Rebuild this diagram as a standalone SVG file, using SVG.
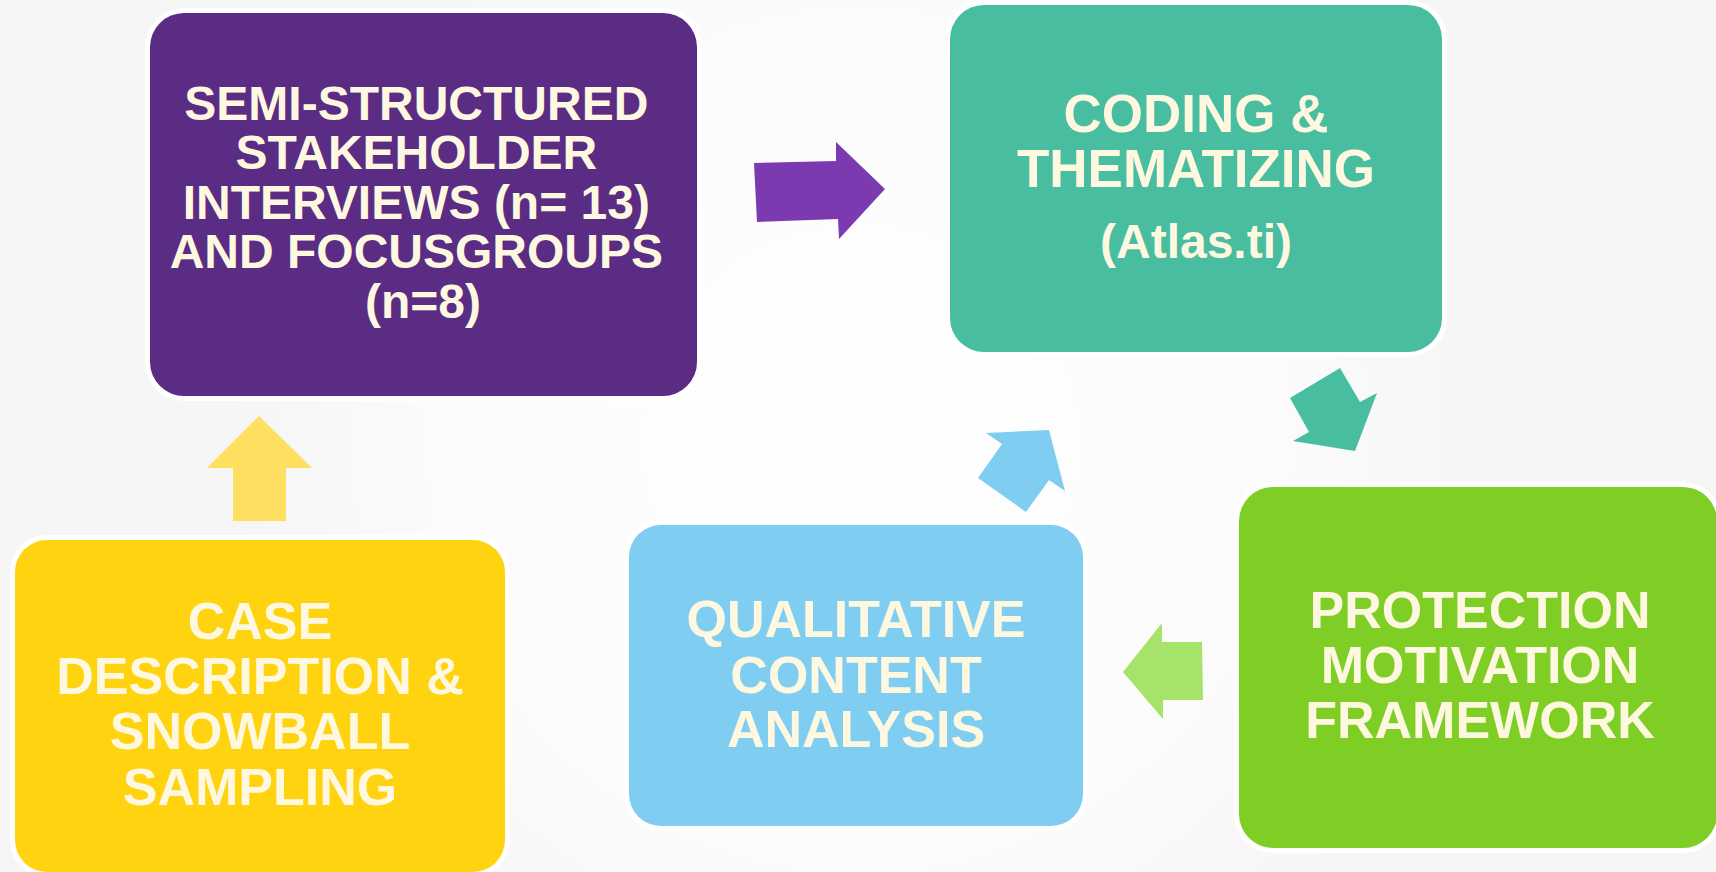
<svg xmlns="http://www.w3.org/2000/svg" width="1716" height="872" viewBox="0 0 1716 872">
<defs>
<radialGradient id="bg" cx="860" cy="440" r="620" gradientUnits="userSpaceOnUse">
<stop offset="0" stop-color="#FFFFFF"/>
<stop offset="0.7" stop-color="#FBFBFB"/>
<stop offset="1" stop-color="#F6F6F6"/>
</radialGradient>
<style>
.box{stroke:#FFFFFF;stroke-width:10;paint-order:stroke}
.t{font-family:"Liberation Sans",Arial,sans-serif;font-weight:bold;fill:#FEF8E1;text-anchor:middle}
</style>
</defs>
<rect x="0" y="0" width="1716" height="872" fill="url(#bg)"/>
<g id="node-semi">
<rect class="box" x="150" y="13" width="547" height="383" rx="34" fill="#5B2C83"/>
<text class="t" font-size="48">
<tspan x="423" y="120">SEMI-STRUCTURED</tspan>
<tspan x="423" y="169">STAKEHOLDER</tspan>
<tspan x="423" y="219">INTERVIEWS (n= 13)</tspan>
<tspan x="423" y="268">AND FOCUSGROUPS</tspan>
<tspan x="423" y="318">(n=8)</tspan>
</text>
</g>
<g id="node-coding">
<rect class="box" x="950" y="5" width="492" height="347" rx="34" fill="#48BDA0"/>
<text class="t" font-size="53"><tspan x="1196" y="132">CODING &amp;</tspan><tspan x="1196" y="187">THEMATIZING</tspan></text>
<text class="t" font-size="48" x="1196" y="258">(Atlas.ti)</text>
</g>
<g id="node-pmf">
<rect class="box" x="1239" y="487" width="478" height="361" rx="34" fill="#7ECE26"/>
<text class="t" font-size="52"><tspan x="1480" y="628">PROTECTION</tspan><tspan x="1480" y="683">MOTIVATION</tspan><tspan x="1480" y="738">FRAMEWORK</tspan></text>
</g>
<g id="node-qca">
<rect class="box" x="629" y="525" width="454" height="301" rx="32" fill="#7FCDF0"/>
<text class="t" font-size="52"><tspan x="856" y="637">QUALITATIVE</tspan><tspan x="856" y="693">CONTENT</tspan><tspan x="856" y="747">ANALYSIS</tspan></text>
</g>
<g id="node-case">
<rect class="box" x="15" y="540" width="490" height="332" rx="32" fill="#FFD30F"/>
<text class="t" font-size="52"><tspan x="260" y="639">CASE</tspan><tspan x="260" y="694">DESCRIPTION &amp;</tspan><tspan x="260" y="749">SNOWBALL</tspan><tspan x="260" y="805">SAMPLING</tspan></text>
</g>
<g id="connectors">
<polygon points="754,163 836,161 836,142 885,189 839,239 838,219 757,222" fill="#7B3AB0"/>
<polygon points="1340,368 1360,402 1377,393 1355,451 1293,441 1309,432 1290,398" fill="#48BDA0"/>
<polygon points="1162,623 1162,642 1202,642 1203,700 1163,700 1163,719 1123,672" fill="#A6E36A"/>
<polygon points="986,433 1049,430 1065,491 1049,480 1026,512 978,478 1002,444" fill="#7FCDF0"/>
<polygon points="259,416 312,468 286,468 286,521 233,521 233,468 207,468" fill="#FFDF60"/>
</g>
</svg>
